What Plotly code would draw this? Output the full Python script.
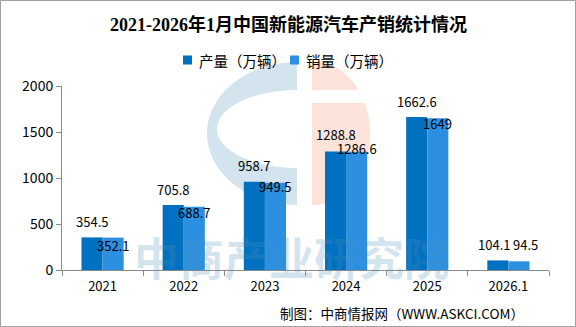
import numpy as np
import plotly.graph_objects as go

categories = ["2021", "2022", "2023", "2024", "2025", "2026.1"]
production = [354.5, 705.8, 958.7, 1288.8, 1662.6, 104.1]
sales = [352.1, 688.7, 949.5, 1286.6, 1649, 94.5]
prod_labels = ["354.5", "705.8", "958.7", "1288.8", "1662.6", "104.1"]
sales_labels = ["352.1", "688.7", "949.5", "1286.6", "1649", "94.5"]
series_names = ["产量（万辆）", "销量（万辆）"]
y_ticks = [0, 500, 1000, 1500, 2000]

# label placement style (pixel offsets)
prod_dy = [16, 16, 16, 17, 16, 16]
sales_dy = [-8, -6, -4, 3, -5, 17]
prod_dx = [0, 0, 0, 0, 0, -3.5]
sales_dx = [0, 0, 0, 0, 0, 7]

W_PX, H_PX = 576, 327
ML, MR, MT, MB = 62, 27, 86, 57
PW = W_PX - ML - MR
PH = H_PX - MT - MB


def px(x):
    return (x - ML) / PW


def py(y):
    return (H_PX - MB - y) / PH


def path_from(points):
    s = "M " + " L ".join(f"{px(x):.5f},{py(y):.5f}" for x, y in points) + " Z"
    return s


C_PROD = "#0070C0"
C_SALES = "#2C8FE0"
FONT = "Noto Sans CJK SC"

fig = go.Figure()
fig.add_bar(x=categories, y=production, name=series_names[0], showlegend=False,
            marker=dict(color=C_PROD, line=dict(width=0)))
fig.add_bar(x=categories, y=sales, name=series_names[1], showlegend=False,
            marker=dict(color=C_SALES, line=dict(width=0)))

annotations = []
half = 10.5
for i, c in enumerate(categories):
    annotations.append(dict(x=i, y=production[i], xref="x", yref="y", text=prod_labels[i], showarrow=False,
                            xshift=-half + prod_dx[i], yshift=prod_dy[i], yanchor="middle",
                            font=dict(family=FONT, size=13, color="#000")))
    annotations.append(dict(x=i, y=sales[i], xref="x", yref="y", text=sales_labels[i], showarrow=False,
                            xshift=half + sales_dx[i], yshift=sales_dy[i], yanchor="middle",
                            font=dict(family=FONT, size=13, color="#000")))

# title
annotations.append(dict(x=px(288), y=py(24), xref="paper", yref="paper", showarrow=False,
                        text="<b>2021-2026年1月中国新能源汽车产销统计情况</b>",
                        xanchor="center", yanchor="middle",
                        font=dict(family="Liberation Serif, " + FONT, size=18, color="#000")))
# footer
annotations.append(dict(x=px(402), y=py(313), xref="paper", yref="paper", showarrow=False,
                        text="制图：中商情报网（WWW.ASKCI.COM）", xanchor="center", yanchor="middle",
                        font=dict(family=FONT, size=13.5, color="#000")))
# watermark text
annotations.append(dict(x=px(291), y=py(256), xref="paper", yref="paper", showarrow=False,
                        text="<b>中商产业研究院</b>", xanchor="center", yanchor="middle",
                        font=dict(family=FONT, size=45, color="rgba(79,147,187,0.25)")))

shapes = []
# watermark logo: blue C
cx, cy, rx, ry = 297, 133.5, 90, 71.5
icx, icy, irx, iry = 297, 129, 80, 39
th = np.linspace(-np.pi / 2, np.pi / 2, 60)
outer = [(cx - rx * np.cos(t), cy + ry * np.sin(t)) for t in th]
inner = [(icx - irx * np.cos(t), icy + iry * np.sin(t)) for t in th[::-1]]
shapes.append(dict(type="path", xref="paper", yref="paper", path=path_from(outer + inner),
                   fillcolor="#d4e4ef", line=dict(width=0), layer="below"))
# pink half
pcx, pcy, prx, pry = 312, 133, 58, 72
phi1 = np.arcsin((90 - pcy) / pry)
phi2 = np.arcsin((103 - pcy) / pry)
up = [(pcx + prx * np.cos(t), pcy + pry * np.sin(t)) for t in np.linspace(-np.pi / 2, phi1, 30)]
up.append((pcx, 90))
lo = [(pcx + prx * np.cos(t), pcy + pry * np.sin(t)) for t in np.linspace(phi2, np.pi / 2, 50)]
lo.append((pcx, 103))
for pts in (up, lo):
    shapes.append(dict(type="path", xref="paper", yref="paper", path=path_from(pts),
                       fillcolor="#fbe3d9", line=dict(width=0), layer="below"))

# legend (custom): coloured squares + texts
leg_sq_x = [183, 290]
leg_y = 60
for xs, col, name in zip(leg_sq_x, [C_PROD, C_SALES], series_names):
    shapes.append(dict(type="rect", xref="paper", yref="paper",
                       x0=px(xs), x1=px(xs + 9), y0=py(leg_y + 4.5), y1=py(leg_y - 4.5),
                       fillcolor=col, line=dict(width=0), layer="above"))
    annotations.append(dict(x=px(xs + 14), y=py(leg_y), xref="paper", yref="paper", showarrow=False,
                            text=name, xanchor="left", yanchor="middle",
                            font=dict(family=FONT, size=14.5, color="#000")))

# outer border
shapes.append(dict(type="rect", xref="paper", yref="paper",
                   x0=px(0.5), x1=px(575.5), y0=py(326.5), y1=py(0.5),
                   line=dict(color="#a0a0a0", width=1), fillcolor="rgba(0,0,0,0)", layer="above"))

fig.update_layout(
    width=W_PX, height=H_PX,
    margin=dict(l=ML, r=MR, t=MT, b=MB),
    paper_bgcolor="white", plot_bgcolor="rgba(0,0,0,0)",
    barmode="group", bargap=0.48, bargroupgap=0,
    showlegend=False,
    annotations=annotations,
    shapes=shapes,
    xaxis=dict(type="category", categoryorder="array", categoryarray=categories,
               range=[-0.5, len(categories) - 0.5], showline=True, linecolor="#898989",
               linewidth=1, ticks="outside", tickson="boundaries", ticklen=5, tickcolor="#898989",
               ticklabelstandoff=4,
               tickfont=dict(family=FONT, size=13, color="#000"), showgrid=False,
               fixedrange=True),
    yaxis=dict(range=[0, 2000], tickvals=y_ticks, showline=True, linecolor="#898989",
               linewidth=1, ticks="outside", ticklen=5, tickcolor="#898989",
               tickfont=dict(family=FONT, size=14, color="#000"), showgrid=False,
               zeroline=False, fixedrange=True),
)

fig.write_html("out.html")
